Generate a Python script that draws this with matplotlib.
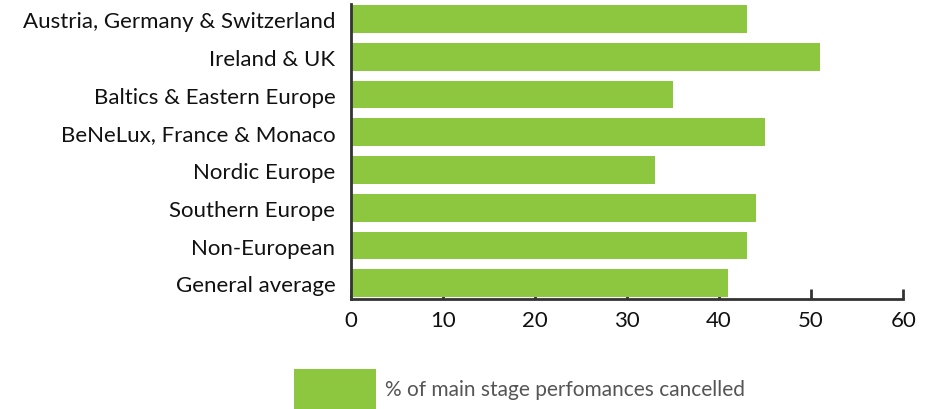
import matplotlib.pyplot as plt
from matplotlib.patches import Patch

regions = ["Austria, Germany & Switzerland", "Ireland & UK", "Baltics & Eastern Europe",
           "BeNeLux, France & Monaco", "Nordic Europe", "Southern Europe",
           "Non-European", "General average"]
cancelled = [43, 51, 35, 45, 33, 44, 43, 41]
x_ticks = [0, 10, 20, 30, 40, 50, 60]

green = "#8dc63f"
dark = "#333333"

plt.rcParams['font.family'] = ['Lato', 'DejaVu Sans']

fig = plt.figure(figsize=(9.35, 4.1), dpi=100)
ax = fig.add_axes([0.375, 0.268, 0.591, 0.72])

pos = list(range(len(regions)))[::-1]
ax.barh(pos, cancelled, height=0.73, color=green, zorder=2)

ax.set_xlim(0, 60)
ax.set_ylim(-0.42, 7.4)
ax.set_xticks(x_ticks)
ax.set_yticks(pos)
ax.set_yticklabels(regions)

for s in ["top", "right"]:
    ax.spines[s].set_visible(False)
for s in ["left", "bottom"]:
    ax.spines[s].set_color(dark)
    ax.spines[s].set_linewidth(2)

ax.tick_params(axis="x", direction="in", length=7, width=2, color=dark,
               labelsize=16, labelcolor="#111111", pad=8)
ax.tick_params(axis="y", length=0, labelsize=16, labelcolor="#111111", pad=11)

handles = [Patch(facecolor=green, label="% of main stage perfomances cancelled")]
leg = fig.legend(handles=handles, loc="upper left", bbox_to_anchor=(0.306, 0.118),
                 frameon=False, fontsize=15, handlelength=3.9, handleheight=2.6,
                 handletextpad=0.45, borderaxespad=0)
for t in leg.get_texts():
    t.set_color("#555555")

fig.savefig("out.png", dpi=100)
